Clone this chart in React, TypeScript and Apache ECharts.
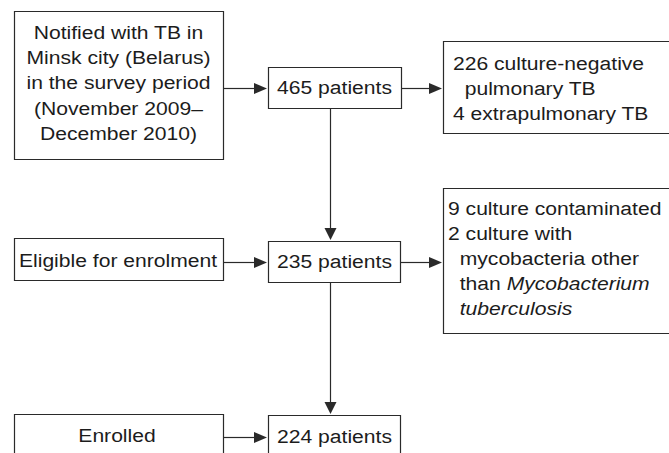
import React, { useEffect, useRef } from "react";
import * as echarts from "echarts";

// ---- content ----
const sourceLines = [
  "Notified with TB in",
  "Minsk city (Belarus)",
  "in the survey period",
  "(November 2009–",
  "December 2010)",
];
const stageLabels = ["Eligible for enrolment", "Enrolled"];
const patientCounts = [465, 235, 224];
const exclusion1Lines = ["226 culture-negative", "  pulmonary TB", "4 extrapulmonary TB"];
const exclusion2Lines = [
  "9 culture contaminated",
  "2 culture with",
  "  mycobacteria other",
  "  than {i|Mycobacterium}",
  "  {i|tuberculosis}",
];

const FONT = "'Liberation Sans', Arial, Helvetica, sans-serif";
const FS = 18.6;
const SX = 1.135;
const TXT = "#1c1c1c";
const LINE = "#2a2a2a";
const LW = 1.2;

function rect(x1: number, y1: number, x2: number, y2: number) {
  return {
    type: "rect",
    shape: { x: x1 + 0.5, y: y1 + 0.5, width: x2 - x1, height: y2 - y1 },
    style: { fill: "#fff", stroke: LINE, lineWidth: LW },
    z: 1,
  };
}

function text(str: string, x: number, y: number, align: "left" | "center") {
  return {
    type: "text",
    x,
    y,
    scaleX: SX,
    z: 5,
    style: {
      text: str,
      x: 0,
      y: 0,
      fill: TXT,
      fontSize: FS,
      fontFamily: FONT,
      textAlign: align,
      textVerticalAlign: "middle",
      rich: {
        i: { fontStyle: "italic", fontSize: FS, fontFamily: FONT, fill: TXT },
      },
    },
  };
}

function hArrow(x1: number, x2: number, y: number) {
  const L = 13, H = 5.5;
  const yy = y + 0.5;
  return [
    { type: "line", shape: { x1, y1: yy, x2: x2 - L + 1, y2: yy }, style: { stroke: LINE, lineWidth: LW }, z: 3 },
    { type: "polygon", shape: { points: [[x2, yy], [x2 - L, yy - H], [x2 - L, yy + H]] }, style: { fill: LINE }, z: 3 },
  ];
}

function vArrow(x: number, y1: number, y2: number) {
  const L = 12, H = 6;
  const xx = x + 0.5;
  return [
    { type: "line", shape: { x1: xx, y1, x2: xx, y2: y2 - L + 1 }, style: { stroke: LINE, lineWidth: LW }, z: 3 },
    { type: "polygon", shape: { points: [[xx, y2], [xx - H, y2 - L], [xx + H, y2 - L]] }, style: { fill: LINE }, z: 3 },
  ];
}

export default function App() {
  const ref = useRef<HTMLDivElement>(null);
  useEffect(() => {
    if (!ref.current) return;
    const chart = echarts.init(ref.current, null, { renderer: "svg" });
    const els: any[] = [];

    // boxes
    els.push(rect(14, 11, 223, 159));
    els.push(rect(268, 67, 401, 108));
    els.push(rect(443, 41, 720, 133));
    els.push(rect(14, 238, 223, 280));
    els.push(rect(268, 241, 400, 282));
    els.push(rect(443, 188, 720, 333));
    els.push(rect(14, 414, 223, 520));
    els.push(rect(268, 415, 400, 520));

    // source box text
    sourceLines.forEach((l, i) => els.push(text(l, 118.5, 32.7 + i * 25.1, "center")));
    // patient counts
    const countY = [87.8, 261.5, 436.3];
    patientCounts.forEach((c, i) => els.push(text(`${c} patients`, 334.5, countY[i], "center")));
    // stage labels
    els.push(text(stageLabels[0], 118, 260, "center"));
    els.push(text(stageLabels[1], 117, 435, "center"));
    // exclusions
    exclusion1Lines.forEach((l, i) => els.push(text(l, 453, 63.7 + i * 25, "left")));
    exclusion2Lines.forEach((l, i) => els.push(text(l, 448, 208.5 + i * 25.1, "left")));

    // arrows
    els.push(...hArrow(223, 267, 88));
    els.push(...hArrow(401, 442, 88));
    els.push(...vArrow(330, 108, 240));
    els.push(...hArrow(223, 267, 262));
    els.push(...hArrow(400, 442, 262));
    els.push(...vArrow(330, 282, 414));
    els.push(...hArrow(223, 267, 437));

    chart.setOption({
      animation: false,
      backgroundColor: "#fff",
      graphic: { elements: els },
    });
    return () => chart.dispose();
  }, []);
  return (
    <div
      ref={ref}
      style={{ position: "fixed", left: 0, top: 0, width: 669, height: 453, background: "#fff" }}
    />
  );
}
